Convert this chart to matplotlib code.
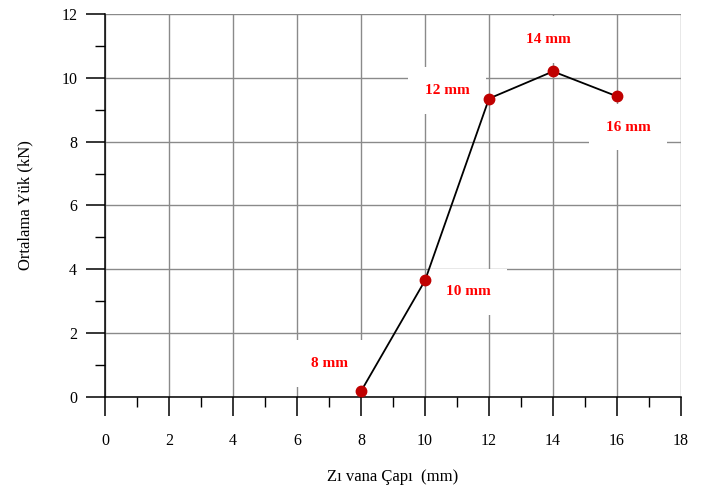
import matplotlib.pyplot as plt
from matplotlib.ticker import MultipleLocator

plt.rcParams['font.family'] = ['Liberation Serif', 'DejaVu Serif']

cap = [8, 10, 12, 14, 16]
yuk = [0.18, 3.65, 9.35, 10.2, 9.42]
etiket = ['8 mm', '10 mm', '12 mm', '14 mm', '16 mm']
etiket_x = [7.0, 11.35, 10.7, 13.85, 16.35]
etiket_y = [1.05, 3.3, 9.6, 11.2, 8.45]

fig = plt.figure(figsize=(7.12, 4.87), dpi=100)
ax = fig.add_axes([0.1475, 0.1848, 0.809, 0.7865])

ax.set_xlim(0, 18)
ax.set_ylim(0, 12)
ax.xaxis.set_major_locator(MultipleLocator(2))
ax.xaxis.set_minor_locator(MultipleLocator(1))
ax.yaxis.set_major_locator(MultipleLocator(2))
ax.yaxis.set_minor_locator(MultipleLocator(1))

ax.grid(True, which='major', color='#8a8a8a', linewidth=1.0, zorder=1)
ax.set_axisbelow(True)
for s in ['top', 'right']:
    ax.spines[s].set_visible(False)
for s in ['left', 'bottom']:
    ax.spines[s].set_linewidth(1.1)
    ax.spines[s].set_zorder(5)

ax.tick_params(which='major', direction='out', length=14, width=1.1, labelsize=11.5)
ax.tick_params(which='minor', direction='out', length=7, width=1.0)
ax.tick_params(axis='x', which='major', pad=12)
ax.tick_params(axis='y', which='major', pad=6)

ax.plot(cap, yuk, color='black', linewidth=1.3, marker='o', markersize=7.5,
        markerfacecolor='#c00000', markeredgecolor='#c00000', zorder=6, clip_on=False)

for tx, ty, t in zip(etiket_x, etiket_y, etiket):
    ax.text(tx, ty, t, color='#ff0000', fontsize=11, fontweight='bold',
            ha='center', va='center', zorder=4,
            bbox=dict(facecolor='white', edgecolor='none', pad=12))

ax.set_xlabel('Zı vana Çapı  (mm)', fontsize=12, labelpad=14)
ax.set_ylabel('Ortalama Yük (kN)', fontsize=12, labelpad=20)

fig.savefig('out.png', dpi=100)
